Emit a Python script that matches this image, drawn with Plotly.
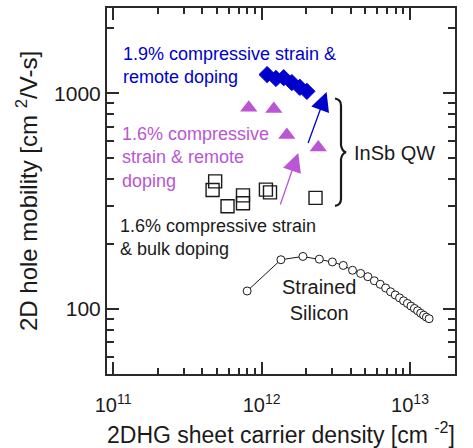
import plotly.graph_objects as go

# --- data -------------------------------------------------------------
# 1.9 % compressive strain, remote doping (InSb QW)
n_19 = [1.09e12, 1.25e12, 1.41e12, 1.60e12, 1.81e12, 2.02e12]
mu_19 = [1220, 1170, 1180, 1120, 1065, 1020]

# 1.6 % compressive strain, remote doping (InSb QW)
n_16r = [8.2e11, 1.21e12, 1.48e12, 2.41e12]
mu_16r = [855, 845, 640, 560]

# 1.6 % compressive strain, bulk doping (InSb QW)
n_16b = [4.87e11, 4.68e11, 5.90e11, 7.50e11, 7.50e11, 1.07e12, 1.14e12, 2.31e12]
mu_16b = [390, 356, 299, 336, 309, 357, 347, 327]

# strained silicon reference
n_si = [0.80e12, 1.35e12, 1.90e12, 2.45e12, 3.00e12, 3.55e12, 4.10e12, 4.65e12,
        5.20e12, 5.75e12, 6.30e12, 6.85e12, 7.40e12, 7.95e12, 8.50e12, 9.05e12,
        9.60e12, 10.15e12, 10.70e12, 11.25e12, 11.80e12, 12.35e12, 12.90e12, 13.45e12]
mu_si = [121, 169, 175, 170, 165, 159, 151, 146,
         141, 135, 130, 125, 120, 116, 112.5, 109,
         106, 103, 100.5, 98, 95.5, 93.5, 91.5, 90]

x_ticks = [1e11, 1e12, 1e13]
x_ticktext = ["10<sup>11</sup>", "10<sup>12</sup>", "10<sup>13</sup>"]
y_ticks = [100, 1000]
y_ticktext = ["100", "1000"]

# --- styling ----------------------------------------------------------
W, H = 473, 448
M_L, M_R, M_T, M_B = 107, 18, 6, 74
BLUE = "#0000CD"
PURPLE = "#BA55D3"
INK = "#1a1a1a"
AXIS = "#2a2a2a"
FONT = "Liberation Sans, Arial, sans-serif"


def paper(px, py):
    """Layout pixel -> paper coordinates of the plotting area."""
    pw = W - M_L - M_R
    ph = H - M_T - M_B
    return (px - M_L) / pw, (H - M_B - py) / ph


fig = go.Figure()

fig.add_trace(go.Scatter(
    x=n_si, y=mu_si, mode="lines+markers",
    line=dict(color=INK, width=1),
    marker=dict(symbol="circle", size=8, color="white",
                line=dict(color=INK, width=1)),
    showlegend=False))

fig.add_trace(go.Scatter(
    x=n_16b, y=mu_16b, mode="markers",
    marker=dict(symbol="square-open", size=13, color=INK,
                line=dict(color=INK, width=1.4)),
    showlegend=False))

fig.add_trace(go.Scatter(
    x=n_16r, y=mu_16r, mode="markers",
    marker=dict(symbol="triangle-up", size=15, color=PURPLE,
                line=dict(width=0)),
    showlegend=False))

fig.add_trace(go.Scatter(
    x=n_19, y=mu_19, mode="markers",
    marker=dict(symbol="diamond", size=12.5, color=BLUE,
                line=dict(color=BLUE, width=1)),
    showlegend=False))

annotations = []


def label(text, px, py, color, size=18, align="left", xanchor="left"):
    xp, yp = paper(px, py)
    annotations.append(dict(
        text=text, x=xp, y=yp, xref="paper", yref="paper",
        xanchor=xanchor, yanchor="middle", align=align, showarrow=False,
        font=dict(family=FONT, size=size, color=color)))


label("1.9% compressive strain &amp;<br>remote doping", 121, 63.5, BLUE)
label("1.6% compressive<br>strain &amp; remote<br>doping", 120, 156, PURPLE)
label("1.6% compressive strain<br>&amp; bulk doping", 118, 236.5, INK)
label("InSb QW", 394, 152, INK, size=20, align="center", xanchor="center")
label("Strained<br>Silicon", 319, 299.5, INK, size=20, align="center", xanchor="center")

# x-axis title, placed below the tick labels
label("2DHG sheet carrier density [cm <sup>-2</sup>]", 281, 433, INK,
      size=23, align="center", xanchor="center")

# arrows pointing from the 1.6 % data toward the 1.9 % data (log-axis units)
for (tx, ty, hx, hy, col) in [(12.310, 2.762, 12.438, 3.005, BLUE),
                              (12.123, 2.477, 12.247, 2.723, PURPLE)]:
    annotations.append(dict(
        x=hx, y=hy, ax=tx, ay=ty, xref="x", yref="y", axref="x", ayref="y",
        text="", showarrow=True, arrowhead=2, arrowsize=2.9, arrowwidth=1.3,
        arrowcolor=col, standoff=0, startstandoff=0))

# curly brace grouping the InSb QW data
pts = {
    "a": paper(335, 97), "b": paper(341, 98), "c": paper(341, 104),
    "d": paper(341, 144), "e": paper(342, 150), "f": paper(346, 151),
    "g": paper(342, 152), "h": paper(341, 158), "i": paper(341, 198),
    "j": paper(341, 204), "k": paper(335, 205),
}


def P(k):
    return f"{pts[k][0]:.5f},{pts[k][1]:.5f}"


brace = (f"M {P('a')} Q {P('b')} {P('c')} L {P('d')} Q {P('e')} {P('f')} "
         f"Q {P('g')} {P('h')} L {P('i')} Q {P('j')} {P('k')}")

fig.update_layout(
    width=W, height=H,
    margin=dict(l=M_L, r=M_R, t=M_T, b=M_B, pad=0),
    paper_bgcolor="white", plot_bgcolor="white",
    font=dict(family=FONT, color=INK),
    annotations=annotations,
    shapes=[dict(type="path", path=brace, xref="paper", yref="paper",
                 line=dict(color=INK, width=2.2))],
)

minor_x = [d * 10 ** e for e in (11, 12, 13) for d in range(2, 10)]
minor_y = [d * 10 ** e for e in (1, 2, 3) for d in range(2, 10)]

fig.update_xaxes(
    type="log", range=[10.959, 13.303],
    tickvals=x_ticks, ticktext=x_ticktext,
    ticks="inside", ticklen=12, tickwidth=1.5, tickcolor=AXIS,
    minor=dict(tickvals=minor_x, ticks="inside", ticklen=6,
               tickwidth=1.5, tickcolor=AXIS, showgrid=False),
    showline=True, linewidth=2, linecolor=AXIS, mirror="allticks",
    showgrid=False, zeroline=False,
    tickfont=dict(family=FONT, size=20, color=INK),
    ticklabelstandoff=12,
)

fig.update_yaxes(
    type="log", range=[1.698, 3.395],
    tickvals=y_ticks, ticktext=y_ticktext,
    ticks="inside", ticklen=12, tickwidth=1.5, tickcolor=AXIS,
    minor=dict(tickvals=minor_y, ticks="inside", ticklen=7,
               tickwidth=1.5, tickcolor=AXIS, showgrid=False),
    showline=True, linewidth=2, linecolor=AXIS, mirror="allticks",
    showgrid=False, zeroline=False,
    tickfont=dict(family=FONT, size=21, color=INK),
    title=dict(text="2D hole mobility [cm <sup>2</sup>/V-s]",
               font=dict(family=FONT, size=24, color=INK), standoff=10),
)

fig.write_html("out.html")
